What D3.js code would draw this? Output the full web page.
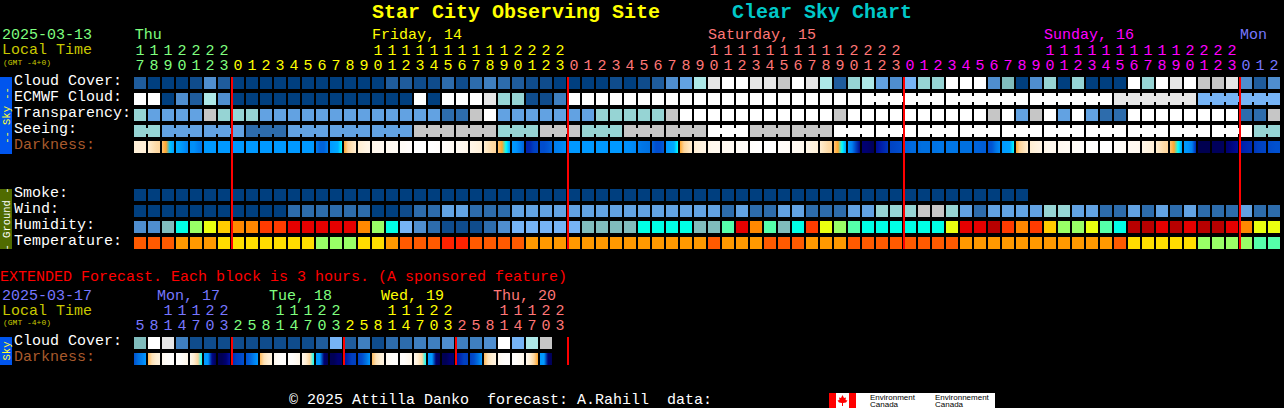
<!DOCTYPE html>
<html>
<head>
<meta charset="utf-8">
<script src="https://cdn.jsdelivr.net/npm/d3@7"></script>
<style>
  html, body { margin: 0; padding: 0; background: #000; overflow: hidden; }
  text { font-family: "Liberation Mono", "DejaVu Sans Mono", monospace; font-size: 15px; white-space: pre; }
</style>
</head>
<body>
<div id="chart"></div>
<script>
// Colour levels shared by all the block rows (0 = clear dark blue ... 13 = white, 14+ = humidity / temperature)
const levelColors = ['#003f7f', '#0f4c8c', '#1f5c9c', '#2d6cac', '#3f7fbf', '#4f8ecf', '#62a2e2', '#76b4f6',
    '#80bcbc', '#96d4d4', '#ade8e8', '#c6c6c6', '#e6e6e6', '#ffffff',
    '#00ffe6', '#55ffaa', '#99ff66', '#eaff10', '#ffdd00', '#ffcc00', '#ff9900', '#ff8800', '#ff5a00',
    '#ff3b00', '#ff2200', '#e60000', '#b80000'];

const cloudCover = [2, 0, 0, 0, 1, 5, 2, 0, 0, 0, 0, 0, 0, 0, 0, 0, 0, 0, 2, 2, 1,
    1, 3, 1, 3, 4, 3, 2, 1, 1, 0,
    0, 0, 0, 1, 0, 1, 2, 5, 6, 10, 12, 13, 13, 12, 12, 11, 13, 12, 10, 2, 9,
    10, 6, 5, 7, 9, 9, 13, 13, 13, 5, 8, 0, 5, 9, 0, 9, 0, 0, 0, 13, 9, 13, 12, 13, 11, 11, 12, 5, 2, 5];
const ecmwfCloud = [13, 13, 0, 5, 2, 10, 5, 0, 0, 0, 0, 0, 0, 0, 0, 0, 0, 0, 0, 0, 13,
    0, 13, 13, 13, 12, 9, 9, 1, 1, 4,
    13, 13, 13, 13, 13, 13, 13, 13, 13, 13, 13, 13, 13, 13, 13, 13, 13, 13, 13, 13, 13,
    13, 13, 13, 13, 13, 13, 13, 13, 13, 13, 13, 13, 13, 13, 13, 13, 13, 13, 12, 12, 12, 12, 12, 12, 7, 7, 7, 7, 7, 7];
const transparency = [9, 6, 6, 6, 6, 11, 9, 9, 9, 6, 6, 6, 6, 6, 6, 6, 6, 6, 6, 6, 6,
    6, 3, 3, 11, 13, 6, 6, 6, 6, 6,
    6, 6, 9, 9, 9, 9, 9, 11, 13, 13, 13, 13, 13, 13, 13, 13, 13, 13, 13, 11, 13,
    13, 13, 13, 13, 13, 13, 13, 13, 13, 11, 13, 6, 11, 13, 6, 13, 6, 3, 3, 13, 13, 13, 13, 13, 13, 13, 13, 3, 3, 11];
const seeing = [9, 9, 6, 6, 6, 6, 6, 6, 3, 3, 3, 6, 6, 6, 6, 6, 6, 6, 6, 6, 11,
    11, 11, 11, 11, 11, 9, 9, 9, 11, 11,
    11, 9, 9, 9, 11, 11, 11, 11, 11, 11, 13, 13, 13, 11, 11, 11, 11, 11, 11, 13, 13,
    13, 13, 13, 13, 13, 13, 13, 13, 13, 13, 13, 13, 13, 13, 13, 13, 13, 13, 13, 13, 13, 13, 13, 13, 13, 13, 13, 13, 9, 9];
const smoke = [0, 0, 0, 0, 0, 0, 0, 0, 0, 0, 0, 0, 0, 0, 0, 0, 0, 0, 0, 0, 0,
    0, 0, 0, 0, 0, 0, 0, 0, 0, 0,
    0, 0, 0, 0, 0, 0, 0, 0, 0, 0, 0, 0, 0, 0, 0, 0, 0, 0, 0, 0, 0,
    0, 0, 0, 0, 0, 0, 0, 0, 0, 0, 0, 0];
const wind = [0, 0, 0, 0, 0, 0, 0, 0, 0, 0, 0, 3, 3, 3, 3, 3, 3, 0, 0, 1, 3,
    3, 6, 6, 3, 3, 3, 6, 6, 6, 6,
    6, 6, 6, 6, 6, 6, 6, 6, 6, 6, 6, 3, 6, 3, 3, 6, 6, 3, 3, 3, 6,
    6, 9, 9, 9, 11, 11, 9, 6, 3, 6, 6, 6, 6, 9, 9, 6, 6, 3, 3, 6, 3, 6, 3, 6, 3, 3, 3, 6, 3, 3];
const humidity = [5, 5, 8, 14, 16, 17, 19, 21, 21, 23, 23, 25, 25, 25, 25, 25, 21, 16, 14, 7, 5,
    3, 1, 1, 1, 3, 5, 7, 7, 7, 7,
    7, 8, 8, 8, 8, 14, 14, 14, 14, 8, 8, 15, 25, 21, 15, 8, 14, 23, 17, 16, 15,
    14, 14, 14, 14, 14, 14, 17, 25, 25, 26, 23, 21, 23, 19, 16, 16, 17, 15, 14, 26, 26, 25, 26, 25, 26, 26, 25, 21, 17, 17];
const temperature = [22, 22, 22, 20, 20, 20, 18, 18, 18, 18, 18, 18, 18, 16, 16, 16, 18, 18, 20, 22, 22,
    22, 24, 24, 22, 22, 22, 22, 20, 20, 20,
    20, 20, 20, 20, 20, 20, 20, 20, 20, 20, 22, 20, 20, 20, 22, 22, 22, 20, 20, 20, 22,
    22, 22, 22, 22, 22, 22, 22, 20, 20, 20, 20, 20, 20, 20, 20, 20, 20, 20, 22, 18, 18, 18, 18, 18, 16, 16, 16, 16, 15, 15];

// Darkness: four readings across each block (negative = daylight, positive = limiting magnitude)
const darkness = [[-2.2, -2.2, -2.2, -2.2], [-2, -1.6, -1.2, -1], [-.8, -.4, .4, .9], [.7, .9, 1.2, 1.5], [1.2, 1.2, 1.5, 1.8],
    [1, 1, 1, 1], [1, 1, 1, 1], [1, 1, 1, 1], [1, 1, 1, 1], [1, 1, 1, 1], [1, 1, 1, 1], [1, 1, 1, 1], [1, 1, 1, 1],
    [1.6, 2.2, 2.2, 1.6], [1, .8, .6, .05], [-.5, -1, -1.5, -2], [-2, -2.3, -2.6, -2.8], [-2.8, -3, -3, -3.2], [-3.2, -3.4, -3.6, -3.8],
    [-4, -4, -4.5, -4.5], [-5, -5, -5, -5], [-5, -5, -4.8, -4.5], [-4.5, -4.2, -3.8, -3.5], [-3.5, -3.2, -3, -2.8], [-2.8, -2.6, -2.4, -2.2],
    [-2, -1.6, -1.2, -1], [-.8, -.4, .05, .9], [1, 1.1, 1.6, 2.2], [3.6, 3.5, 3, 2.8], [2.6, 2.6, 2.4, 2.2], [1.6, 1.5, 1.4, 1.2],
    [1, 1, 1, 1], [1, 1, 1, 1], [1, 1, 1, 1], [1, 1, 1, 1], [1.2, 1.2, 1.3, 1.4], [1.6, 1.8, 1.9, 2], [2.2, 2.6, 2.6, 2.3],
    [1, .8, .6, .05], [-.5, -1, -1.5, -2], [-2, -2.3, -2.5, -2.7], [-2.8, -3, -3, -3.1], [-3.2, -3.3, -3.5, -3.6], [-3.8, -4, -4.2, -4.4],
    [-4.5, -4.6, -4.8, -5], [-5, -5, -5, -5], [-4.5, -4.2, -4, -3.8], [-3.6, -3.4, -3.2, -3], [-2.8, -2.6, -2.4, -2.2], [-2, -1.6, -1.2, -1],
    [-.8, -.4, .05, .9], [1, 1.5, 3, 4.5], [5, 5, 5.2, 5.5], [4.2, 3.8, 3.5, 3.2], [2.9, 2.8, 2.7, 2.6], [2.2, 2.2, 2.1, 2.1],
    [2.1, 2, 2, 2], [1.9, 1.9, 1.8, 1.8], [1.8, 1.8, 1.8, 1.8], [2, 2, 2, 2], [2.2, 2.2, 2.3, 2.3], [2.6, 2.4, 1.8, 1.3],
    [1, .9, .8, .05], [-.5, -1, -1.5, -2], [-2, -2.3, -2.5, -2.7], [-2.8, -3, -3, -3.1], [-3.2, -3.3, -3.5, -3.6], [-3.8, -4, -4.2, -4.4],
    [-4.5, -4.6, -4.8, -5], [-5, -5, -5, -5], [-4.5, -4.2, -4, -3.8], [-3.6, -3.4, -3.2, -3], [-2.8, -2.6, -2.4, -2.2], [-2, -1.6, -1.2, -1],
    [-.8, -.4, .05, .9], [1, 1.1, 1.5, 3.5], [5.6, 5.6, 5.6, 5.6], [5.4, 5.4, 5.4, 5.4], [5, 4.8, 4.5, 4.2], [3.8, 3.6, 3.5, 3.4],
    [3.2, 3, 2.9, 2.8], [2.7, 2.6, 2.5, 2.5]];

const extCloud = [8, 13, 12, 4, 1, 1, 1, 1, 1, 1, 1, 1, 1, 2, 7, 2, 4, 1, 3, 3, 4, 4, 5, 4, 4, 5, 13, 7, 10, 11];
const extDarkness = [[2.5, 2, 1.5, 1], [-.7, -1.5, -2, -2.5], [-3, -4, -4.5, -4.5], [-4.5, -4.5, -3.5, -2.8], [-3, -2, -1, .05],
    [1, 1, 4.5, 5.5], [5.5, 5.5, 5, 4], [3.5, 3, 2.8, 2.5], [2.5, 2.2, 1.5, 1], [-.7, -1.5, -2, -2.5], [-3, -4, -4.5, -4.5],
    [-4.5, -4.5, -3.5, -2.8], [-3, -2, -1, .05], [1, 1, 5, 5.5], [5.5, 5.5, 5, 5], [4, 3.5, 3, 3], [3, 2.6, 2, 1], [-.7, -1.5, -2, -2.5],
    [-3, -4, -4.5, -4.5], [-4.5, -4.5, -3.5, -2.8], [-3, -2, -1, .05], [1, 1, 5, 5.5], [5.5, 5.5, 5, 5], [4, 3.5, 3, 3], [3, 2.6, 2, 1],
    [-.7, -1.5, -2, -2.5], [-3, -4, -4.5, -4.5], [-4.5, -4.5, -3.5, -2.8], [-3, -2, -1, -.4], [1, 1, 5, 5.5]];

// Hour of the first block of the day cycle, one entry per block
const hours = [17, 18, 19, 20, 21, 22, 23, 0, 1, 2, 3, 4, 5, 6, 7, 8, 9, 10, 11, 12, 13, 14, 15, 16];
const extHours = [5, 8, 11, 14, 17, 20, 23, 2, 5, 8, 11, 14, 17, 20, 23, 2, 5, 8, 11, 14, 17, 20, 23, 2, 5, 8, 11, 14, 17, 20, 23];

const dayLabels = [['Thu', 0.05, '#7fff7f'], ['Friday, 14', 17, '#ffff00'], ['Saturday, 15', 41, '#ff7777'], ['Sunday, 16', 65, '#ff00ff'], ['Mon', 79, '#7777ff']];
const extDayLabels = [['Mon, 17', 1.64, '#7777ff'], ['Tue, 18', 9.64, '#7fff7f'], ['Wed, 19', 17.64, '#ffff00'], ['Thu, 20', 25.64, '#ff7777']];
const midnights = [7, 31, 55, 79];
const extMidnights = [7, 15, 23, 31];
const dayStarts = [0, 7, 31, 55, 79];
const dayColors = ['#7fff7f', '#ffff00', '#ff7777', '#ff00ff', '#7777ff'];
const extColors = ['#7777ff', '#7fff7f', '#ffff00', '#ff7777'];

const width = 1284, height = 408;
const svg = d3.select('#chart').append('svg')
    .attr('width', width)
    .attr('height', height)
    .style('display', 'block')
    .style('background', '#000');
const defs = svg.append('defs');

const x = d3.scaleLinear().domain([0, 82]).range([134, 1282]);
const cellW = x(1) - x(0) - 2;
const cellH = 12;
const levelColor = d3.scaleOrdinal().domain(d3.range(levelColors.length)).range(levelColors);
const darkColor = d3.scaleLinear()
    .domain([-5, -3, -2, -1, -.5, -.05, .05, .5, 1, 1.5, 2, 2.5, 3, 3.5, 4, 5, 5.6])
    .range(['#ffffff', '#fff8ee', '#ffeed2', '#fdd59c', '#ffa830', '#ffa020', '#00ffff', '#00b0ff', '#0099ff',
        '#0080f0', '#0070e0', '#0050d0', '#0040c0', '#0028b0', '#0010a0', '#000070', '#000050']);

function label(str, px, py, color, size, weight) {
    return svg.append('text')
        .attr('x', px)
        .attr('y', py)
        .attr('fill', color)
        .style('font-size', (size || 15) + 'px')
        .style('font-weight', weight || 'normal')
        .text(str);
}

// Row of plain blocks; join = function(col) true when the block is bridged to the next one
function drawRow(values, y, join) {
    const g = svg.append('g').attr('shape-rendering', 'crispEdges');
    g.selectAll('rect.cell').data(values).join('rect')
        .attr('class', 'cell')
        .attr('x', (d, i) => x(i))
        .attr('y', y)
        .attr('width', cellW)
        .attr('height', cellH)
        .attr('fill', d => levelColor(d));
    if (join) {
        g.selectAll('rect.bridge').data(values.map((d, i) => i).filter(i => i < values.length - 1 && join(i))).join('rect')
            .attr('class', 'bridge')
            .attr('x', i => x(i) + cellW)
            .attr('y', y + 3)
            .attr('width', 2)
            .attr('height', 6)
            .attr('fill', i => levelColor(values[i]));
    }
}

function drawDarkness(values, y, key) {
    values.forEach((samples, i) => {
        const grad = defs.append('linearGradient').attr('id', key + i);
        grad.selectAll('stop').data(samples).join('stop')
            .attr('offset', (d, j) => j / (samples.length - 1))
            .attr('stop-color', d => darkColor(d));
    });
    svg.append('g').attr('shape-rendering', 'crispEdges')
        .selectAll('rect').data(values).join('rect')
        .attr('x', (d, i) => x(i))
        .attr('y', y)
        .attr('width', cellW)
        .attr('height', cellH)
        .attr('fill', (d, i) => `url(#${key}${i})`);
}

function drawRedLines(cols, y1, y2) {
    svg.append('g').attr('shape-rendering', 'crispEdges')
        .selectAll('rect').data(cols).join('rect')
        .attr('x', d => x(d) - 1)
        .attr('y', y1)
        .attr('width', 2)
        .attr('height', y2 - y1)
        .attr('fill', '#ff0000');
}

function sideTab(str, y, h, fill, color) {
    svg.append('rect').attr('x', 0).attr('y', y).attr('width', 12).attr('height', h)
        .attr('fill', fill).attr('shape-rendering', 'crispEdges');
    svg.append('text')
        .attr('transform', `translate(9.5,${y + h / 2}) rotate(-90)`)
        .attr('text-anchor', 'middle')
        .attr('fill', color)
        .style('font-size', '10.5px')
        .text(str);
}

// Titles
label('Star City Observing Site', 372, 18, '#ffff00', 20, 'bold');
label('Clear Sky Chart', 732, 18, '#00c8c8', 20, 'bold');

// Header, main chart
label('2025-03-13', 2, 39, '#7fff7f');
label('Local Time', 2, 54, '#c8c800');
label('(GMT -4+0)', 3, 65, '#c8c800', 8);
dayLabels.forEach(d => label(d[0], x(d[1]), 39, d[2]));

function hourColor(col) {
    return dayColors[d3.bisectRight(dayStarts, col) - 1];
}
const mainCols = d3.range(82);
svg.append('g').selectAll('text').data(mainCols).join('text')
    .attr('x', c => x(c) + cellW / 2)
    .attr('y', 70)
    .attr('text-anchor', 'middle')
    .attr('fill', hourColor)
    .text(c => hours[c % 24] % 10);
svg.append('g').selectAll('text').data(mainCols.filter(c => hours[c % 24] >= 10)).join('text')
    .attr('x', c => x(c) + cellW / 2)
    .attr('y', 55)
    .attr('text-anchor', 'middle')
    .attr('fill', hourColor)
    .text(c => Math.floor(hours[c % 24] / 10));

// Row labels
const skyRows = ['Cloud Cover:', 'ECMWF Cloud:', 'Transparency:', 'Seeing:', 'Darkness:'];
const groundRows = ['Smoke:', 'Wind:', 'Humidity:', 'Temperature:'];
skyRows.forEach((s, i) => label(s, 14, 85 + i * 16, s === 'Darkness:' ? '#a85a2c' : '#ffffff'));
groundRows.forEach((s, i) => label(s, 14, 197 + i * 16, '#ffffff'));
sideTab('-- Sky --', 77, 77, '#0055ee', '#ffff33');
sideTab('- Ground -', 189, 60, '#506b00', '#ffffff');

// Blocks
drawRow(cloudCover, 77);
drawRow(ecmwfCloud, 93, c => c >= 52 && (c - 52) % 6 !== 5);
drawRow(transparency, 109);
drawRow(seeing, 125, c => c % 3 !== 1);
drawDarkness(darkness, 141, 'd');
drawRow(smoke, 189);
drawRow(wind, 205);
drawRow(humidity, 221);
drawRow(temperature, 237);
drawRedLines(midnights, 77, 249);

// Extended forecast
label('EXTENDED Forecast. Each block is 3 hours. (A sponsored feature)', 0, 281, '#ff0000');
label('2025-03-17', 2, 300, '#7777ff');
label('Local Time', 2, 315, '#c8c800');
label('(GMT -4+0)', 3, 325, '#c8c800', 8);
extDayLabels.forEach(d => label(d[0], x(d[1]), 300, d[2]));

const extCols = d3.range(31);
function extColor(c) {
    return extColors[d3.bisectRight(extMidnights, c)];
}
svg.append('g').selectAll('text').data(extCols).join('text')
    .attr('x', c => x(c) + cellW / 2)
    .attr('y', 330)
    .attr('text-anchor', 'middle')
    .attr('fill', extColor)
    .text(c => extHours[c] % 10);
svg.append('g').selectAll('text').data(extCols.filter(c => extHours[c] >= 10)).join('text')
    .attr('x', c => x(c) + cellW / 2)
    .attr('y', 315)
    .attr('text-anchor', 'middle')
    .attr('fill', extColor)
    .text(c => Math.floor(extHours[c] / 10));

label('Cloud Cover:', 14, 345, '#ffffff');
label('Darkness:', 14, 361, '#a85a2c');
sideTab('Sky', 337, 28, '#0055ee', '#ffff33');
drawRow(extCloud, 337);
drawDarkness(extDarkness, 353, 'e');
drawRedLines(extMidnights, 337, 365);

// Footer
label('© 2025 Attilla Danko  forecast: A.Rahill  data:', 289, 403.5, '#ffffff');

// Environment Canada logo
const logo = svg.append('g').attr('transform', 'translate(829,393)');
logo.append('rect').attr('width', 166).attr('height', 15).attr('fill', '#ffffff');
logo.append('rect').attr('width', 7).attr('height', 15).attr('fill', '#ff0000');
logo.append('rect').attr('x', 20).attr('width', 7).attr('height', 15).attr('fill', '#ff0000');
logo.append('path')
    .attr('d', 'M13.5 2 L15 5 L17 4.5 L16.5 7 L18.5 7.5 L17 9.5 L14 10 L14 13 L13 13 L13 10 L10 9.5 L8.5 7.5 L10.5 7 L10 4.5 L12 5 Z')
    .attr('fill', '#ff0000');
[['Environment', 41, 7], ['Canada', 41, 14], ['Environnement', 106, 7], ['Canada', 106, 14]].forEach(t => {
    logo.append('text').attr('x', t[1]).attr('y', t[2]).attr('fill', '#000')
        .style('font-family', '"Liberation Sans", sans-serif').style('font-size', '8px').text(t[0]);
});
</script>
</body>
</html>
